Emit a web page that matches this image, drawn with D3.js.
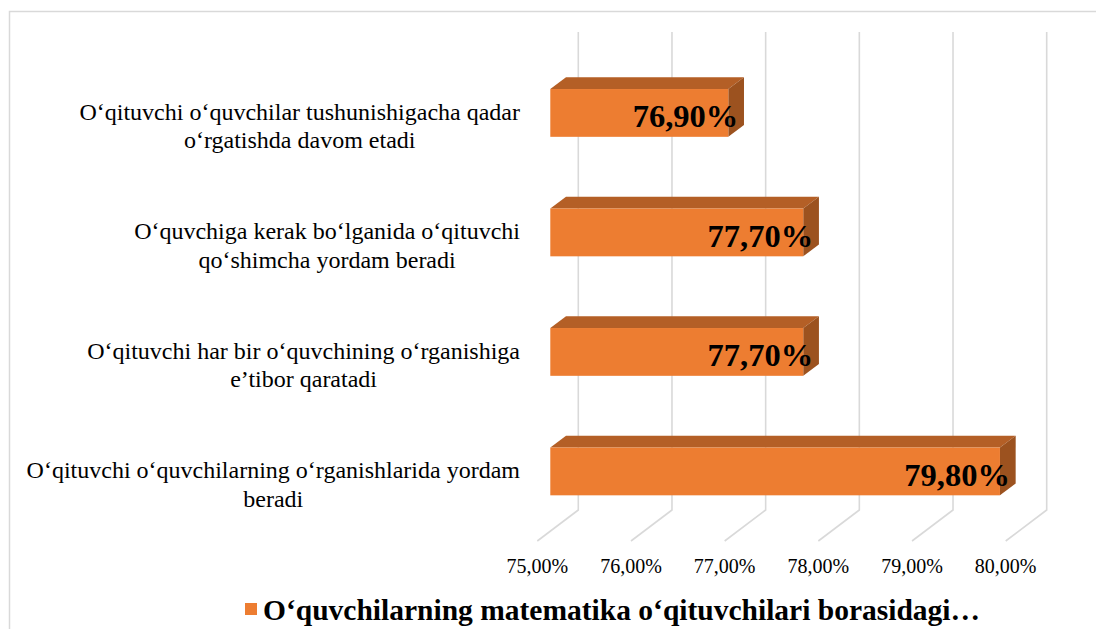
<!DOCTYPE html>
<html>
<head>
<meta charset="utf-8">
<script src="https://cdn.jsdelivr.net/npm/d3@7/dist/d3.min.js"></script>
<style>
  html, body { margin: 0; padding: 0; background: #ffffff; }
  svg { display: block; }
</style>
</head>
<body>
<svg id="chart" width="1096" height="629"></svg>
<script>
// ---- data (top to bottom as drawn) ----
const categories = [
  ["O‘qituvchi o‘quvchilar tushunishigacha qadar", "o‘rgatishda davom etadi"],
  ["O‘quvchiga kerak bo‘lganida o‘qituvchi", "qo‘shimcha yordam beradi"],
  ["O‘qituvchi har bir o‘quvchining o‘rganishiga", "e’tibor qaratadi"],
  ["O‘qituvchi o‘quvchilarning o‘rganishlarida yordam", "beradi"]
];
const values = [76.9, 77.7, 77.7, 79.8];
const tickValues = [75, 76, 77, 78, 79, 80];
const seriesName = "O‘quvchilarning matematika o‘qituvchilari borasidagi…";

const colFront = "#ED7D31", colTop = "#B45F26", colSide = "#9C521F", grid = "#d9d9d9";
const serif = "'Liberation Serif', 'Times New Roman', serif";

const svg = d3.select("#chart");
const keys = categories.map((c, i) => "c" + i);

// front (floor edge) plane scales
const x = d3.scaleLinear().domain([75, 80]).range([537.3, 1005.7]);
const y = d3.scaleBand().domain(keys).range([63, 541]).paddingInner(0.6).paddingOuter(0.3);

// depth vector of the plot (front -> back wall)
const DX = 41, DY = -31;
const f0 = 0.317, f1 = 0.70; // bar front / back depth fractions

// chart border
svg.append("path").attr("d", "M9.5,629 L9.5,11.5 L1096,11.5")
  .attr("fill", "none").attr("stroke", grid).attr("stroke-width", 1.5);

// gridlines: back wall verticals + floor diagonals
const g = svg.append("g");
tickValues.forEach(t => {
  const xb = x(t) + DX;
  g.append("path")
    .attr("d", `M${xb},${y.range()[0] + DY} L${xb},${y.range()[1] + DY} L${x(t)},${y.range()[1]}`)
    .attr("fill", "none").attr("stroke", grid).attr("stroke-width", 1.6);
});

// bars
const bars = svg.append("g");
values.forEach((v, i) => {
  const ox = DX * f0, oy = DY * f0;
  const bx = DX * (f1 - f0), by = DY * (f1 - f0);
  const x0 = x(75) + ox, x1 = x(v) + ox;
  const y0 = y(keys[i]) + oy, h = y.bandwidth();
  bars.append("polygon")
    .attr("points", [[x0, y0], [x1, y0], [x1 + bx, y0 + by], [x0 + bx, y0 + by]].join(" "))
    .attr("fill", colTop);
  bars.append("polygon")
    .attr("points", [[x1, y0], [x1 + bx, y0 + by], [x1 + bx, y0 + h + by], [x1, y0 + h]].join(" "))
    .attr("fill", colSide);
  bars.append("rect")
    .attr("x", x0).attr("y", y0).attr("width", x1 - x0).attr("height", h)
    .attr("fill", colFront);
  bars.append("text")
    .attr("x", x1 + 10).attr("y", y0 + h / 2 + 14.5)
    .attr("text-anchor", "end")
    .attr("font-family", serif).attr("font-weight", "bold").attr("font-size", 32.5)
    .attr("fill", "#000")
    .text(v.toFixed(2).replace(".", ",") + "%");
});

// category labels (block right aligned, lines centered)
const labRight = 520;
categories.forEach((lines, i) => {
  const cy = y(keys[i]) + y.bandwidth() / 2 + 3;
  const t = svg.append("g");
  const lh = 28.5;
  const texts = lines.map((s, k) => t.append("text")
    .attr("y", cy - (lines.length - 1) * lh / 2 + k * lh + 8)
    .attr("text-anchor", "middle")
    .attr("font-family", serif).attr("font-size", 24).attr("fill", "#000")
    .text(s));
  const maxW = d3.max(texts, n => n.node().getComputedTextLength());
  texts.forEach(n => n.attr("x", labRight - maxW / 2));
});

// tick labels
svg.append("g").selectAll("text").data(tickValues).join("text")
  .attr("x", d => x(d)).attr("y", 573)
  .attr("text-anchor", "middle")
  .attr("font-family", serif).attr("font-size", 20).attr("fill", "#000")
  .text(d => d.toFixed(2).replace(".", ",") + "%");

// legend
svg.append("rect").attr("x", 245).attr("y", 603).attr("width", 12).attr("height", 12).attr("fill", colFront);
svg.append("text").attr("x", 263).attr("y", 620)
  .attr("font-family", serif).attr("font-weight", "bold").attr("font-size", 29.5).attr("fill", "#000")
  .text(seriesName);
</script>
</body>
</html>
